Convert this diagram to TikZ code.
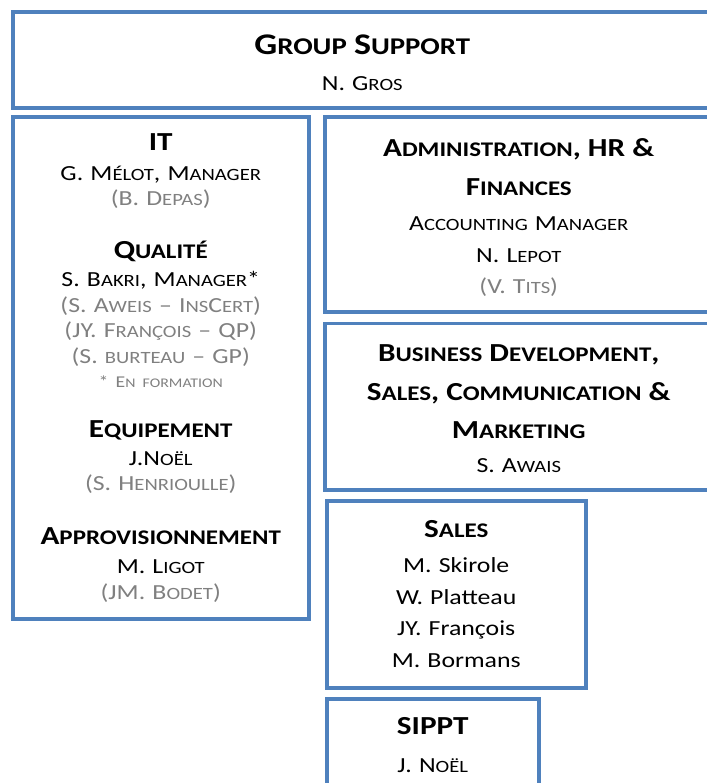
\documentclass[tikz,border=0pt]{standalone}
\usepackage{fontspec}
\setmainfont{Carlito}[FakeStretch=1.2]
\frenchspacing
\definecolor{boxblue}{RGB}{79,129,189}
\definecolor{deputygray}{RGB}{128,128,128}
\makeatletter
\newcommand{\sm}[1]{{\fontsize{\fpeval{0.8*\f@size}}{0}\selectfont\MakeUppercase{#1}}}
\makeatother
\newcommand{\unithead}[1]{{\fontsize{26}{26}\selectfont\bfseries #1}}
\newcommand{\deputy}[1]{{\color{deputygray}#1}}
\begin{document}
\begin{tikzpicture}[x=1pt,y=-1pt,line join=miter,
	box/.style={draw=boxblue,line width=3.5pt,inner sep=0pt,align=center,anchor=north west,font=\fontsize{21.5}{25.5}\selectfont},
	widebox/.style={box,font=\fontsize{21.5}{31.5}\selectfont}]
		\useasboundingbox (0,0) rectangle (706,783);
		\node[box,text width=699pt,minimum height=96pt] (gs) at (11,10.5)
		{\rule{0pt}{25pt}{\fontsize{30}{30}\selectfont\bfseries G\sm{roup} S\sm{upport}}\\[10pt]
		N. G\sm{ros}};
		\node[box,text width=296pt,minimum height=501.5pt] (it) at (11,115.5)
		{\unithead{IT}\\[4.5pt]
		G. M\sm{élot}, M\sm{anager}\\
		\deputy{(B. D\sm{epas})}\\[27.5pt]
		\unithead{Q\sm{ualité}}\\[2.5pt]
		S. B\sm{akri}, M\sm{anager}*\\
		\deputy{(S. A\sm{weis} – I\sm{ns}C\sm{ert})}\\
		\deputy{(JY. F\sm{rançois} – QP)}\\
		\deputy{(S. \sm{burteau} – GP)}\\[-1.5pt]
		{\fontsize{16.5}{16.5}\selectfont\deputy{* E\sm{n formation}}}\\[24.5pt]
		\unithead{E\sm{quipement}}\\[2.5pt]
		J.N\sm{oël}\\
		\deputy{(S. H\sm{enrioulle})}\\[28.5pt]
		\unithead{A\sm{pprovisionnement}}\\[3.5pt]
		M. L\sm{igot}\\
		\deputy{(JM. B\sm{odet})}};
		\node[widebox,text width=388pt,minimum height=194.5pt] (adm) at (323,115.5)
		{\rule{0pt}{24pt}\unithead{A\sm{dministration}, HR \&}\\[7.5pt]
		\unithead{F\sm{inances}}\\[3.5pt]
		A\sm{ccounting} M\sm{anager}\\
		N. L\sm{epot}\\
		\deputy{(V. T\sm{its})}};
		\node[widebox,text width=388pt,minimum height=166.5pt] (bd) at (323,321.5)
		{\rule{0pt}{21pt}\unithead{B\sm{usiness} D\sm{evelopment},}\\[7.5pt]
		\unithead{S\sm{ales}, C\sm{ommunication} \&}\\[6.5pt]
		\unithead{M\sm{arketing}}\\[2.5pt]
		S. A\sm{wais}};
		\node[widebox,text width=259pt,minimum height=187pt] (sales) at (325,499)
		{\unithead{S\sm{ales}}\\[3.5pt]
		M. Skirole\\
		W. Platteau\\
		JY. François\\
		M. Bormans};
		\node[widebox,text width=212pt,minimum height=93pt] (sippt) at (325,697)
		{\unithead{SIPPT}\\[6.5pt]
		J. N\sm{oël}};
\end{tikzpicture}
\end{document}
